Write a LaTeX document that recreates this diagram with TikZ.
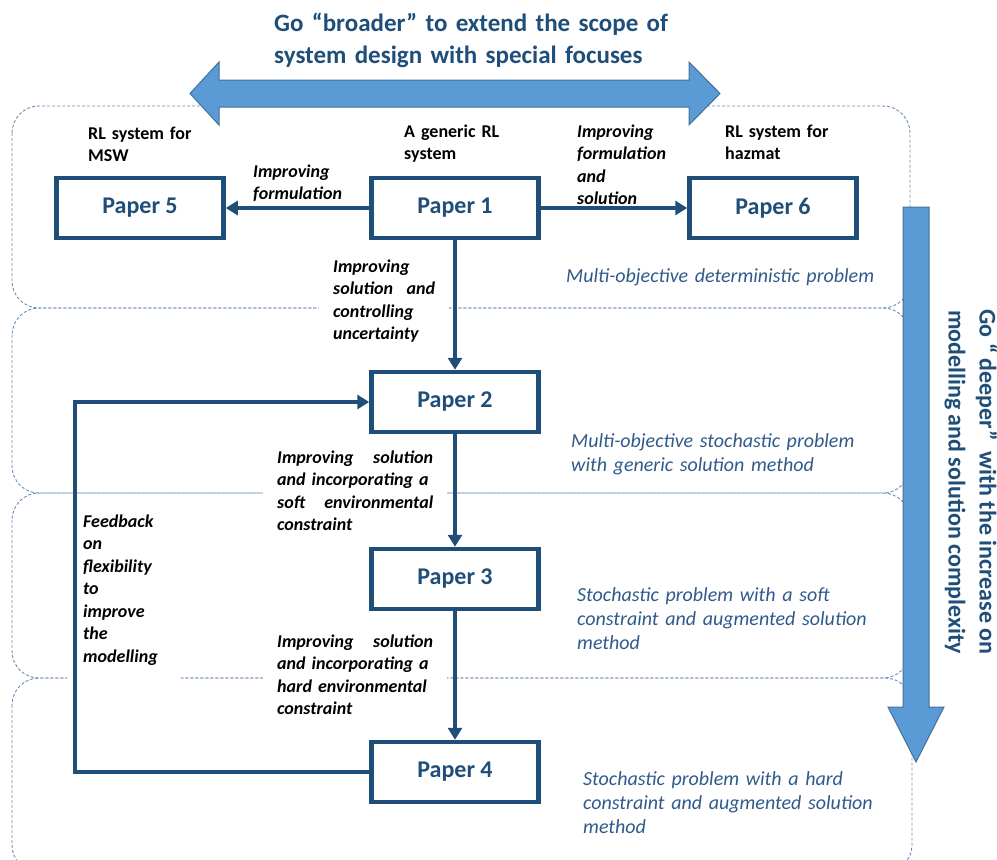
\documentclass[tikz,border=0pt]{standalone}
\usepackage{fontspec}
\setmainfont{Carlito}
\usetikzlibrary{arrows.meta}
\definecolor{dblue}{HTML}{1F4E79}
\definecolor{afill}{HTML}{5B9BD5}
\definecolor{aline}{HTML}{41719C}
\definecolor{lblue}{HTML}{2F5A8A}
\definecolor{bandc}{HTML}{6B8EB8}
\begin{document}
\begin{tikzpicture}[x=1pt,y=-1pt,
  band/.style={draw=bandc, line width=0.9pt, dash pattern=on 3pt off 2pt, rounded corners=27pt},
  blockarrow/.style={fill=afill, draw=aline, line width=1pt},
  paper/.style={draw=dblue, line width=4.5pt, fill=white, minimum width=167pt, minimum height=60pt, inner sep=0pt, text=dblue, font=\fontsize{24}{28}\selectfont\bfseries},
  conn/.style={draw=dblue, line width=4pt, -{Triangle[length=12pt,width=14pt]}},
  blk/.style={anchor=base west, inner sep=0pt, text width=150pt, align=left, font=\fontsize{18}{22}\selectfont\bfseries},
  ibk/.style={anchor=base west, inner sep=0pt, text width=150pt, align=left, font=\fontsize{18}{22.5}\selectfont\bfseries\itshape},
  wlab/.style={anchor=base west, fill=white, inner xsep=14pt, inner ysep=4pt, font=\fontsize{18}{22.5}\selectfont\bfseries\itshape},
  plab/.style={anchor=base west, inner sep=0pt, text width=340pt, align=left, text=lblue, font=\fontsize{20}{24.3}\selectfont\itshape},
  ttl/.style={anchor=base west, inner sep=0pt, text width=420pt, align=left, text=dblue, font=\fontsize{25}{32}\selectfont\bfseries},
  vtxt/.style={rotate=-90, inner sep=0pt, align=center, text=dblue, font=\fontsize{24}{31}\selectfont\bfseries}
]
\useasboundingbox (0,0) rectangle (997,860);
\clip (0,0) rectangle (997,860);

% bands
\draw[band] (12,106) rectangle (910,308);
\draw[band] (12,308) rectangle (910,493);
\draw[band] (12,493) rectangle (910,678);
\draw[band] (12,678) rectangle (912,872);

% block arrows
\draw[blockarrow] (190,93.5) -- (219,62) -- (219,80) -- (689,80) -- (689,62) -- (720,93.5)
  -- (689,125) -- (689,107) -- (219,107) -- (219,125) -- cycle;
\draw[blockarrow] (903,207) -- (929,207) -- (929,707) -- (944,707) -- (916,762) -- (888,707) -- (903,707) -- cycle;

% title and side text
\node[ttl] (title) at (274,31) {Go “broader” to extend the scope of\\system design with special focuses};
\node[vtxt] (deep) at (971,482) {Go “ deeper” \ with the increase on\\modelling and solution complexity};

% black labels
\node[blk] (lmsw) at (88,139) {RL system for\\MSW};
\node[blk] (lgen) at (404,137) {A generic RL\\system};
\node[blk] (lhaz) at (725,137) {RL system for\\hazmat};
\node[ibk] (lif1) at (253,177) {Improving\\formulation};
\node[ibk] (lif2) at (577,137) {Improving\\formulation\\and\\solution};

% white-backed labels
\node[wlab, text width=102pt] (lctl) at (319,272) {Improving\\solution\hfill and\\controlling\\uncertainty};
\node[wlab, text width=156pt] (lsoft) at (263,463) {Improving\hfill solution\\\mbox{and incorporating a}\\soft\hfill environmental\\constraint};
\node[wlab, text width=156pt] (lhard) at (263,647) {Improving\hfill solution\\\mbox{and incorporating a}\\\mbox{hard environmental}\\constraint};
\node[wlab, text width=82pt, inner xsep=16pt, inner ysep=14pt] (lfb) at (67,527) {Feedback\\on\\flexibility\\to\\improve\\the\\modelling};

% problem labels
\node[plab] (pd1) at (566,282) {Multi-objective deterministic problem};
\node[plab] (pd2) at (571,447) {Multi-objective stochastic problem\\with generic solution method};
\node[plab] (pd3) at (577,601) {Stochastic problem with a soft\\constraint and augmented solution\\method};
\node[plab] (pd4) at (583,785) {Stochastic problem with a hard\\constraint and augmented solution\\method};

% paper boxes
\node[paper] (p1) at (455,208) {Paper 1};
\node[paper] (p5) at (140,208) {Paper 5};
\node[paper] (p6) at (773,208) {Paper 6};
\node[paper] (p2) at (455,402) {Paper 2};
\node[paper] (p3) at (455,579) {Paper 3};
\node[paper] (p4) at (455,772) {Paper 4};

% connectors
\draw[conn] (p1) -- (p5);
\draw[conn] (p1) -- (p6);
\draw[conn] (p1) -- (p2);
\draw[conn] (p2) -- (p3);
\draw[conn] (p3) -- (p4);
\coordinate (fbc) at (75,402);
\draw[conn] (p4.west) -| (fbc) -- (p2.west);
\end{tikzpicture}
\end{document}
